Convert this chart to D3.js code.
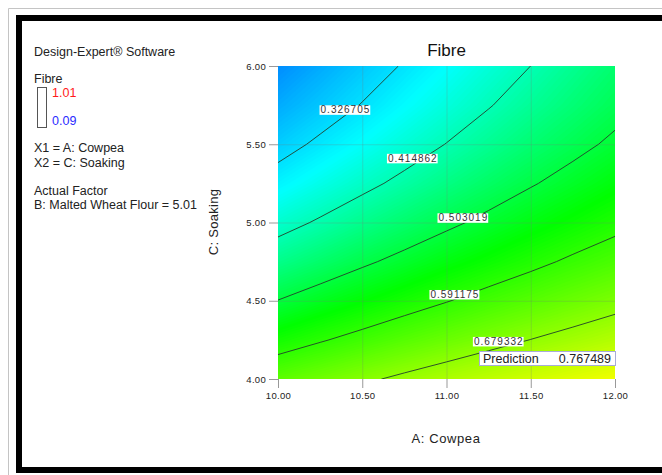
<!DOCTYPE html>
<html>
<head>
<meta charset="utf-8">
<script src="https://cdn.jsdelivr.net/npm/d3@7"></script>
<style>
  body { margin: 0; background: #fff; }
  svg { display: block; font-family: "Liberation Sans", Arial, sans-serif; }
</style>
</head>
<body>
<svg width="662" height="475"></svg>
<script>
// grid of the response surface
var cowpea = [10, 10.25, 10.5, 10.75, 11, 11.25, 11.5, 11.75, 12];
var soaking = [4, 4.25, 4.5, 4.75, 5, 5.25, 5.5, 5.75, 6];
// one row per soaking value (4.00 first), one column per cowpea value
var fibre = [
  [0.633, 0.652, 0.671, 0.689, 0.706, 0.722, 0.738, 0.753, 0.767],
  [0.566, 0.587, 0.607, 0.627, 0.645, 0.663, 0.680, 0.696, 0.712],
  [0.504, 0.527, 0.548, 0.569, 0.589, 0.609, 0.627, 0.645, 0.662],
  [0.447, 0.471, 0.495, 0.517, 0.539, 0.559, 0.579, 0.599, 0.617],
  [0.396, 0.421, 0.446, 0.470, 0.493, 0.515, 0.537, 0.557, 0.577],
  [0.349, 0.376, 0.402, 0.427, 0.452, 0.476, 0.499, 0.521, 0.542],
  [0.307, 0.336, 0.363, 0.390, 0.416, 0.441, 0.466, 0.489, 0.512],
  [0.271, 0.300, 0.329, 0.358, 0.385, 0.412, 0.438, 0.463, 0.487],
  [0.239, 0.270, 0.301, 0.331, 0.360, 0.388, 0.415, 0.442, 0.468]
];
var levels = [0.326705, 0.414862, 0.503019, 0.591175, 0.679332];
// where each level's label sits (cowpea, soaking)
var labelCowpea = [10.40, 10.80, 11.10, 11.05, 11.31];
var labelSoaking = [5.72, 5.41, 5.03, 4.54, 4.24];
var xTicks = [10, 10.5, 11, 11.5, 12];
var yTicks = [4, 4.5, 5, 5.5, 6];
var fibreRange = [0.09, 1.01];
var prediction = 0.767489;

var svg = d3.select('svg');

// frame
svg.append('path').attr('d', 'M8.5,475V8.5H662').attr('fill', 'none').attr('stroke', '#c4c4c4');
svg.append('rect').attr('x', 19).attr('y', 18).attr('width', 700).attr('height', 452)
  .attr('fill', 'none').attr('stroke', '#000').attr('stroke-width', 6);

var x = d3.scaleLinear().domain([10, 12]).range([278, 615]);
var y = d3.scaleLinear().domain([4, 6]).range([379, 66]);

var color = d3.scaleLinear()
  .domain([fibreRange[0], 0.36, 0.55, 0.78, fibreRange[1]])
  .range(['#0000ff', '#00ffff', '#00ff00', '#ffff00', '#ff0000']);

var nx = cowpea.length, ny = soaking.length;
var values = [];
fibre.forEach(function(row){ row.forEach(function(v){ values.push(v); }); });

// grid unit -> pixel (value i sits at grid coordinate i + 0.5)
var gx = d3.scaleLinear().domain([0.5, nx - 0.5]).range([x(cowpea[0]), x(cowpea[nx - 1])]);
var gy = d3.scaleLinear().domain([0.5, ny - 0.5]).range([y(soaking[0]), y(soaking[ny - 1])]);
var proj = d3.geoTransform({ point: function(px, py){ this.stream.point(gx(px), gy(py)); } });
var path = d3.geoPath(proj);

svg.append('clipPath').attr('id', 'plot')
  .append('rect').attr('x', 278).attr('y', 66).attr('width', 337).attr('height', 313);

var g = svg.append('g').attr('clip-path', 'url(#plot)');

var step = 0.004;
var bands = d3.range(0.2, 0.8, step);
var contours = d3.contours().size([nx, ny]);
g.selectAll('path.band')
  .data(contours.thresholds(bands)(values))
  .join('path')
  .attr('class', 'band')
  .attr('d', path)
  .attr('fill', function(d){ return color(d.value + step / 2); });

// grid lines
g.selectAll('line.vx').data(xTicks.slice(1, -1)).join('line')
  .attr('x1', function(d){ return x(d) + 0.5; }).attr('x2', function(d){ return x(d) + 0.5; })
  .attr('y1', 66).attr('y2', 379)
  .attr('stroke', 'rgba(120,120,120,0.25)');
g.selectAll('line.hy').data(yTicks.slice(1, -1)).join('line')
  .attr('y1', function(d){ return y(d) + 0.5; }).attr('y2', function(d){ return y(d) + 0.5; })
  .attr('x1', 278).attr('x2', 615)
  .attr('stroke', 'rgba(120,120,120,0.25)');

// contour lines
g.selectAll('path.level')
  .data(contours.thresholds(levels)(values))
  .join('path')
  .attr('class', 'level')
  .attr('d', path)
  .attr('fill', 'none')
  .attr('stroke', '#23402a')
  .attr('stroke-width', 0.9);

// contour labels
var labels = svg.append('g').selectAll('g').data(levels).join('g')
  .attr('transform', function(d, i){ return 'translate(' + x(labelCowpea[i]) + ',' + y(labelSoaking[i]) + ')'; });
labels.append('rect').attr('fill', '#fff');
labels.append('text')
  .attr('text-anchor', 'middle').attr('dy', '0.36em')
  .attr('font-size', 10).attr('letter-spacing', 1).attr('fill', '#333')
  .text(function(d){ return d.toFixed(6); });
labels.each(function(){
  var t = d3.select(this).select('text').node().getBBox();
  d3.select(this).select('rect')
    .attr('x', t.x - 1).attr('y', -4.5).attr('width', t.width + 1).attr('height', 9.5);
});

// axes
var xAxis = svg.append('g').attr('transform', 'translate(0,379)')
  .call(d3.axisBottom(x).tickValues(xTicks).tickFormat(d3.format('.2f')).tickSize(9).tickSizeOuter(0));
var yAxis = svg.append('g').attr('transform', 'translate(278,0)')
  .call(d3.axisLeft(y).tickValues(yTicks).tickFormat(d3.format('.2f')).tickSize(9).tickSizeOuter(0));
[xAxis, yAxis].forEach(function(a){
  a.select('.domain').remove();
  a.selectAll('line').attr('stroke', '#999');
  a.selectAll('text').attr('fill', '#222').attr('font-size', 9.5).attr('letter-spacing', 0.3)
    .attr('font-family', '"Liberation Sans", Arial, sans-serif');
});
xAxis.selectAll('text').attr('y', 13);
yAxis.selectAll('text').attr('x', -12);

// titles
svg.append('text').attr('x', 446.5).attr('y', 56).attr('text-anchor', 'middle')
  .attr('font-size', 17).attr('fill', '#111').text('Fibre');
svg.append('text').attr('x', 446).attr('y', 443).attr('text-anchor', 'middle')
  .attr('font-size', 13).attr('letter-spacing', 0.6).attr('fill', '#222').text('A: Cowpea');
svg.append('text').attr('transform', 'translate(217.5,222) rotate(-90)').attr('text-anchor', 'middle')
  .attr('font-size', 13).attr('letter-spacing', 0.3).attr('fill', '#222').text('C: Soaking');

// left panel
var info = svg.append('g').attr('font-size', 12.5).attr('fill', '#222');
info.append('text').attr('x', 34).attr('y', 56).text('Design-Expert® Software');
info.append('text').attr('x', 34).attr('y', 83).text('Fibre');
info.append('rect').attr('x', 37.5).attr('y', 87.5).attr('width', 9).attr('height', 40)
  .attr('fill', 'none').attr('stroke', '#555');
info.append('text').attr('x', 52).attr('y', 97).attr('fill', '#ff1a1a').text(fibreRange[1].toFixed(2));
info.append('text').attr('x', 52).attr('y', 125).attr('fill', '#2b2bff').text(fibreRange[0].toFixed(2));
info.append('text').attr('x', 34).attr('y', 152).text('X1 = A: Cowpea');
info.append('text').attr('x', 34).attr('y', 167).text('X2 = C: Soaking');
info.append('text').attr('x', 34).attr('y', 195).text('Actual Factor');
info.append('text').attr('x', 34).attr('y', 209).text('B: Malted Wheat Flour = 5.01');

// prediction flag
var flag = svg.append('g');
flag.append('rect').attr('x', 479.5).attr('y', 351.5).attr('width', 136).attr('height', 14)
  .attr('fill', '#fff').attr('stroke', '#a8acd8');
flag.append('text').attr('x', 483).attr('y', 363).attr('font-size', 12.5).attr('fill', '#222').text('Prediction');
flag.append('text').attr('x', 611).attr('y', 363).attr('text-anchor', 'end')
  .attr('font-size', 12.5).attr('fill', '#222').text(prediction.toFixed(6));
</script>
</body>
</html>
